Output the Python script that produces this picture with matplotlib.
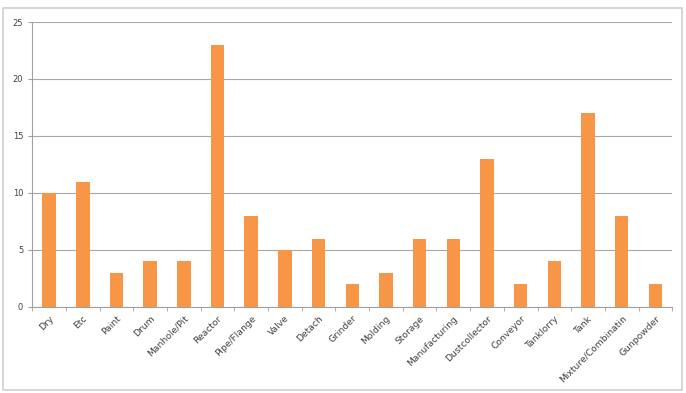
import matplotlib
matplotlib.use("Agg")
import matplotlib.pyplot as plt
from matplotlib.patches import Rectangle

categorias = ["Dry", "Etc", "Paint", "Drum", "Manhole/Pit", "Reactor", "Pipe/Flange",
              "Valve", "Detach", "Grinder", "Molding", "Storage", "Manufacturing",
              "Dustcollector", "Conveyor", "Tanklorry", "Tank", "Mixture/Combinatin",
              "Gunpowder"]
valores = [10, 11, 3, 4, 4, 23, 8, 5, 6, 2, 3, 6, 6, 13, 2, 4, 17, 8, 2]
ticks_y = [0, 5, 10, 15, 20, 25]


def main():
    fig = plt.figure(figsize=(6.86, 3.93), dpi=100)
    fig.patches.append(Rectangle((0.004, 0.008), 0.99, 0.972, transform=fig.transFigure,
                                 fill=False, edgecolor="#d0d0d0", linewidth=1.2))
    ax = fig.add_axes([0.047, 0.219, 0.933, 0.725])

    x = list(range(len(categorias)))
    ax.bar(x, valores, width=0.4, color="#F79646", zorder=3)

    ax.set_ylim(0, 25)
    ax.set_xlim(-0.5, len(categorias) - 0.5)
    ax.set_yticks(ticks_y)
    ax.set_yticklabels([str(t) for t in ticks_y], fontsize=6, color="#404040")
    ax.set_xticks(x)
    ax.set_xticklabels(categorias, rotation=45, ha="right", rotation_mode="anchor",
                       fontsize=6.6, color="#404040")
    ax.set_xticks([i - 0.5 for i in range(len(categorias) + 1)], minor=True)
    ax.tick_params(axis="x", which="major", length=0, pad=5)
    ax.tick_params(axis="x", which="minor", length=3, color="#a0a0a0")
    ax.tick_params(axis="y", length=3, color="#a0a0a0")

    ax.grid(axis="y", color="#a8a8a8", linewidth=0.8, zorder=0)
    for lado in ["top", "right"]:
        ax.spines[lado].set_visible(False)
    ax.spines["left"].set_color("#a0a0a0")
    ax.spines["bottom"].set_color("#a0a0a0")

    fig.savefig("out.png", dpi=100)


if __name__ == "__main__":
    main()
